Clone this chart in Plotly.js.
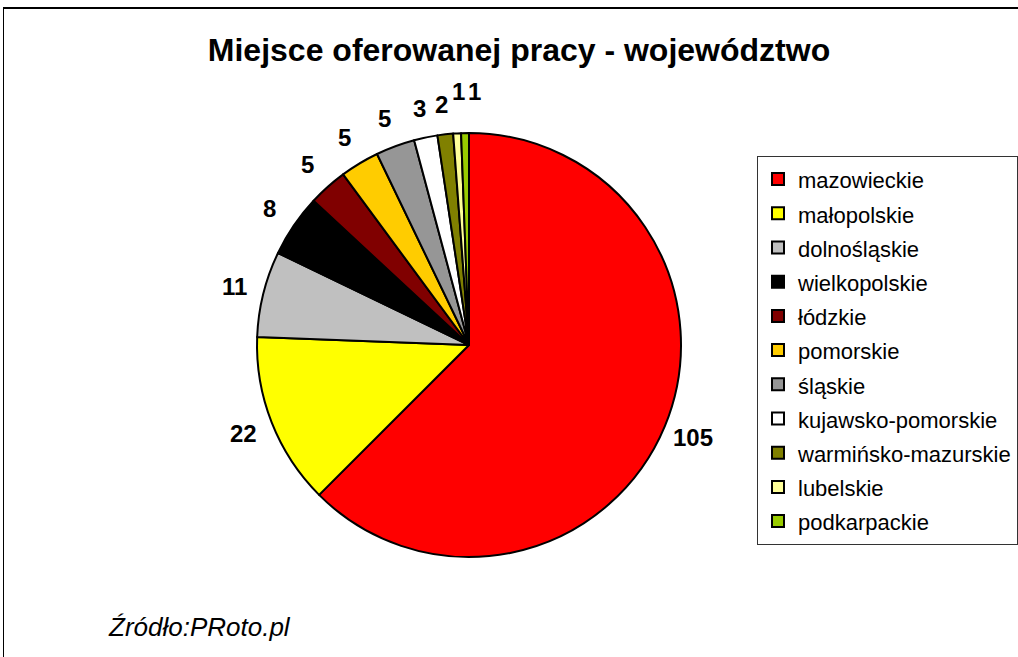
<!DOCTYPE html>
<html>
<head>
<meta charset="utf-8">
<script src="https://cdn.plot.ly/plotly-3.0.1.min.js"></script>
<style>html,body{margin:0;padding:0;background:#fff;}#chart{width:1018px;height:657px;}</style>
</head>
<body>
<div id="chart"></div>
<script>
const labels = ["mazowieckie","małopolskie","dolnośląskie","wielkopolskie","łódzkie","pomorskie","śląskie","kujawsko-pomorskie","warmińsko-mazurskie","lubelskie","podkarpackie"];
const values = [105,22,11,8,5,5,5,3,2,1,1];
const colors = ["#FF0000","#FFFF00","#C0C0C0","#000000","#800000","#FFCC00","#969696","#FFFFFF","#808000","#FFFF99","#99CC00"];
const chartTitle = "Miejsce oferowanej pracy - województwo";
const sourceText = "Źródło:PRoto.pl";

const W = 1018, H = 657;
const px = x => x / W;
const py = y => 1 - y / H;
const FONT = "Liberation Sans, Arial, sans-serif";

// pie geometry (layout only)
const CX = 469, CY = 345, R = 212;
const LABEL_R = 242, LABEL_SIZE = 24, DIGIT_W = 13.4, GAP = 3, LIFT = 12;

const trace = {
  type: "pie",
  labels: labels.map(l => '<span style="font-size:22px">' + l + '</span>'),
  values: values,
  sort: false,
  direction: "clockwise",
  rotation: 0,
  marker: {colors: colors, line: {color: "#000000", width: 2}},
  textinfo: "none",
  automargin: false,
  domain: {x: [px(CX - R), px(CX + R)], y: [py(CY + R), py(CY - R)]},
  hoverinfo: "label+value"
};

// data labels placed around the pie from the values' angular positions
const total = values.reduce((a, b) => a + b, 0);
let cum = 0;
const pos = [];
values.forEach((v, i) => {
  const mid = (cum + v / 2) / total * 2 * Math.PI;
  cum += v;
  let x = CX + Math.sin(mid) * LABEL_R;
  let y = CY - Math.cos(mid) * LABEL_R;
  const w = String(v).length * DIGIT_W;
  let shifted = false;
  if (pos.length) {
    const p = pos[pos.length - 1];
    const minDx = (p.w + w) / 2 + GAP;
    if (Math.abs(p.y - y) < LABEL_SIZE * 0.8 && Math.abs(x - p.x) < minDx) {
      x = p.x + minDx;
      y = p.shifted ? p.y : Math.min(y, p.y) - LIFT;
      shifted = true;
    }
  }
  pos.push({x, y, w, shifted});
});
const labelAnnotations = values.map((v, i) => ({
  text: "<b>" + v + "</b>", xref: "paper", yref: "paper",
  x: px(pos[i].x), y: py(pos[i].y), xanchor: "center", yanchor: "middle",
  showarrow: false, font: {family: FONT, size: LABEL_SIZE, color: "#000"}
}));

const layout = {
  width: W, height: H,
  margin: {l: 0, r: 0, t: 0, b: 0},
  paper_bgcolor: "#ffffff",
  title: {text: "<b>" + chartTitle + "</b>", font: {family: FONT, size: 32, color: "#000"}, x: px(519), xanchor: "center", y: py(50), yanchor: "middle"},
  showlegend: true,
  legend: {
    x: px(757), y: py(156), xanchor: "left", yanchor: "top",
    font: {family: FONT, size: 24, color: "#000"},
    bordercolor: "#333333", borderwidth: 1, bgcolor: "#ffffff",
    traceorder: "normal"
  },
  annotations: labelAnnotations.concat([{
    text: "<i>" + sourceText + "</i>", xref: "paper", yref: "paper",
    x: px(106), y: py(627), xanchor: "left", yanchor: "middle",
    showarrow: false, font: {family: FONT, size: 26, color: "#000"}
  }]),
  shapes: [
    {type: "line", xref: "paper", yref: "paper", x0: px(3), x1: 1, y0: py(8), y1: py(8), line: {color: "#000", width: 2}},
    {type: "line", xref: "paper", yref: "paper", x0: px(3.5), x1: px(3.5), y0: py(8), y1: 0, line: {color: "#000", width: 1}}
  ]
};

Plotly.newPlot("chart", [trace], layout, {displayModeBar: false});
</script>
</body>
</html>
